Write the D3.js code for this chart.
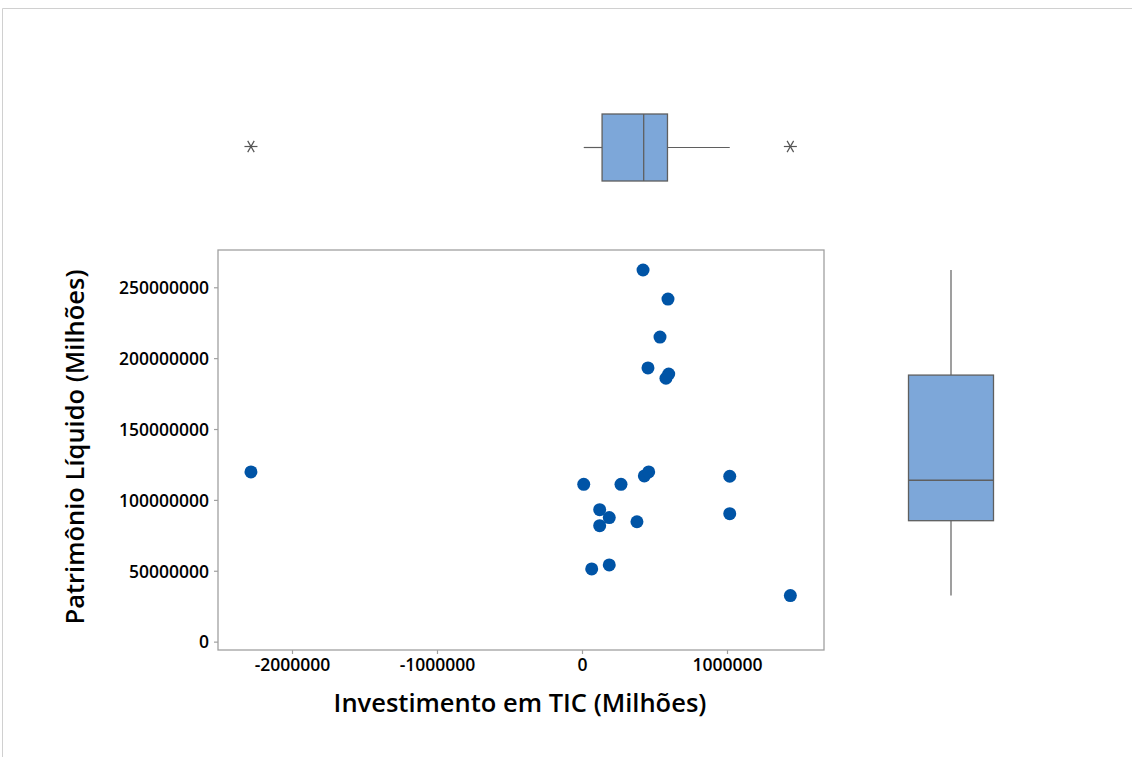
<!DOCTYPE html>
<html>
<head>
<meta charset="utf-8">
<script src="https://cdn.jsdelivr.net/npm/d3@7"></script>
<style>
  html, body { margin: 0; padding: 0; background: #fff; }
  svg { display: block; font-family: "Open Sans", "Noto Sans", sans-serif; }
</style>
</head>
<body>
<svg id="chart" width="1132" height="757"></svg>
<script>
// Investimento em TIC vs Patrimônio Líquido (values in millions)
const investimentoTIC = [
  -2283000, 421000, 593000, 538000, 455000, 598000, 579000,
  12000, 269000, 430000, 460000, 1019000, 122000, 188000,
  122000, 379000, 1019000, 67000, 188000, 1437000
];
const patrimonioLiquido = [
  119700000, 262200000, 241700000, 214900000, 193100000, 188800000, 185800000,
  111000000, 111000000, 116900000, 119700000, 116700000, 93100000, 87500000,
  81800000, 84600000, 90300000, 51300000, 54100000, 32500000
];
const xTicks = [-2000000, -1000000, 0, 1000000];
const yTicks = [0, 50000000, 100000000, 150000000, 200000000, 250000000];
const xTitle = "Investimento em TIC (Milhões)";
const yTitle = "Patrimônio Líquido (Milhões)";

const svg = d3.select("#chart");
const frame = { left: 218, right: 824, top: 250, bottom: 650 };

const x = d3.scaleLinear().domain([-2510300, 1669000]).range([frame.left, frame.right]);
const y = d3.scaleLinear().domain([-5900000, 276300000]).range([frame.bottom, frame.top]);

const axisGrey = "#a0a0a0";
const boxFill = "#7da7d9";
const boxStroke = "#5f5f5f";
const pointFill = "#0054a6";

// plain integers with an ASCII hyphen for negatives
const intFmt = v => String(Math.round(v));

// outer page border (top and left edges)
svg.append("path")
  .attr("d", "M2.5,757 V8.5 H1132")
  .attr("fill", "none").attr("stroke", "#d0d0d0").attr("stroke-width", 1);

// Minitab-style quartiles: position p*(n+1)
function quart(sorted, p) {
  const n = sorted.length, pos = p * (n + 1);
  const i = Math.floor(pos), f = pos - i;
  if (i < 1) return sorted[0];
  if (i >= n) return sorted[n - 1];
  return sorted[i - 1] + f * (sorted[i] - sorted[i - 1]);
}
function boxStats(vals) {
  const s = vals.slice().sort(d3.ascending);
  const q1 = quart(s, 0.25), med = quart(s, 0.5), q3 = quart(s, 0.75);
  const iqr = q3 - q1;
  const lo = q1 - 1.5 * iqr, hi = q3 + 1.5 * iqr;
  const inside = s.filter(v => v >= lo && v <= hi);
  return {
    q1, med, q3,
    wLo: d3.min(inside), wHi: d3.max(inside),
    outliers: s.filter(v => v < lo || v > hi)
  };
}

// asterisk marker for outliers
function asterisk(g, cx, cy, r) {
  [0, 60, 120].forEach(a => {
    const t = a * Math.PI / 180;
    g.append("line")
      .attr("x1", cx - r * Math.cos(t)).attr("y1", cy - r * Math.sin(t))
      .attr("x2", cx + r * Math.cos(t)).attr("y2", cy + r * Math.sin(t))
      .attr("stroke", "#555").attr("stroke-width", 1.2);
  });
}

// ---- scatter frame
svg.append("rect")
  .attr("x", frame.left).attr("y", frame.top)
  .attr("width", frame.right - frame.left).attr("height", frame.bottom - frame.top)
  .attr("fill", "none").attr("stroke", axisGrey).attr("stroke-width", 1.3);

// axes
const xAxis = svg.append("g")
  .attr("transform", `translate(0,${frame.bottom})`)
  .call(d3.axisBottom(x).tickValues(xTicks).tickSize(4).tickPadding(3).tickFormat(intFmt));
const yAxis = svg.append("g")
  .attr("transform", `translate(${frame.left},0)`)
  .call(d3.axisLeft(y).tickValues(yTicks).tickSize(4).tickPadding(5).tickFormat(intFmt));
[xAxis, yAxis].forEach(a => {
  a.select(".domain").remove();
  a.selectAll(".tick line").attr("stroke", axisGrey).attr("stroke-width", 1.2);
  a.selectAll(".tick text")
    .attr("fill", "#000")
    .style("font-size", "17.5px").style("font-weight", 600)
    .style("font-family", "'Open Sans', 'Noto Sans', sans-serif");
});
xAxis.selectAll(".tick text").attr("dy", "0.8em");
yAxis.selectAll(".tick text").attr("dy", "0.36em");

// points
svg.append("g").selectAll("circle")
  .data(investimentoTIC.map((v, i) => [v, patrimonioLiquido[i]]))
  .join("circle")
  .attr("cx", d => x(d[0])).attr("cy", d => y(d[1]))
  .attr("r", 6.5)
  .attr("fill", pointFill);

// axis titles
svg.append("text")
  .attr("x", 520).attr("y", 712)
  .attr("text-anchor", "middle")
  .style("font-size", "25.5px").style("font-weight", 600)
  .text(xTitle);
svg.append("text")
  .attr("transform", `translate(84,447) rotate(-90)`)
  .attr("text-anchor", "middle")
  .style("font-size", "25.5px").style("font-weight", 600)
  .text(yTitle);

// ---- top marginal boxplot (x variable)
const bx = boxStats(investimentoTIC);
const topG = svg.append("g");
const tc = 147.5, th = 67;
topG.append("line")
  .attr("x1", x(bx.wLo)).attr("x2", x(bx.q1)).attr("y1", tc).attr("y2", tc)
  .attr("stroke", boxStroke).attr("stroke-width", 1.2);
topG.append("line")
  .attr("x1", x(bx.q3)).attr("x2", x(bx.wHi)).attr("y1", tc).attr("y2", tc)
  .attr("stroke", boxStroke).attr("stroke-width", 1.2);
topG.append("rect")
  .attr("x", x(bx.q1)).attr("y", tc - th / 2)
  .attr("width", x(bx.q3) - x(bx.q1)).attr("height", th)
  .attr("fill", boxFill).attr("stroke", boxStroke).attr("stroke-width", 1.3);
topG.append("line")
  .attr("x1", x(bx.med)).attr("x2", x(bx.med))
  .attr("y1", tc - th / 2).attr("y2", tc + th / 2)
  .attr("stroke", boxStroke).attr("stroke-width", 1.3);
bx.outliers.forEach(v => asterisk(topG, x(v), tc - 1, 6.5));

// ---- right marginal boxplot (y variable)
const by = boxStats(patrimonioLiquido);
const rightG = svg.append("g");
const rc = 951, rw = 85;
rightG.append("line")
  .attr("x1", rc).attr("x2", rc).attr("y1", y(by.wHi)).attr("y2", y(by.q3))
  .attr("stroke", boxStroke).attr("stroke-width", 1.2);
rightG.append("line")
  .attr("x1", rc).attr("x2", rc).attr("y1", y(by.q1)).attr("y2", y(by.wLo))
  .attr("stroke", boxStroke).attr("stroke-width", 1.2);
rightG.append("rect")
  .attr("x", rc - rw / 2).attr("y", y(by.q3))
  .attr("width", rw).attr("height", y(by.q1) - y(by.q3))
  .attr("fill", boxFill).attr("stroke", boxStroke).attr("stroke-width", 1.3);
rightG.append("line")
  .attr("x1", rc - rw / 2).attr("x2", rc + rw / 2)
  .attr("y1", y(by.med)).attr("y2", y(by.med))
  .attr("stroke", boxStroke).attr("stroke-width", 1.3);
by.outliers.forEach(v => asterisk(rightG, rc, y(v), 6.5));
</script>
</body>
</html>
